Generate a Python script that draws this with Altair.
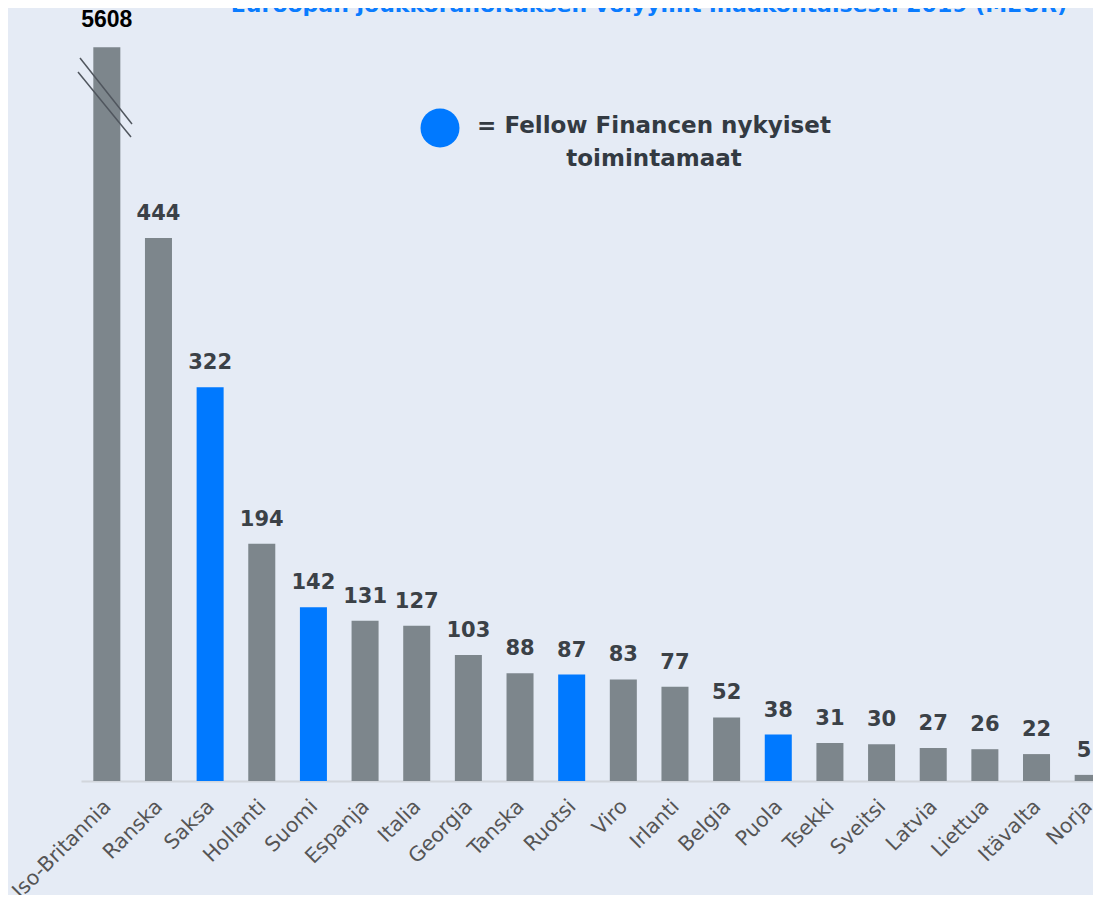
import altair as alt
import pandas as pd

# ---- data ----
countries = ["Iso-Britannia", "Ranska", "Saksa", "Hollanti", "Suomi", "Espanja",
             "Italia", "Georgia", "Tanska", "Ruotsi", "Viro", "Irlanti", "Belgia",
             "Puola", "Tsekki", "Sveitsi", "Latvia", "Liettua", "Itävalta", "Norja"]
values = [5608, 444, 322, 194, 142, 131, 127, 103, 88, 87, 83, 77, 52, 38,
          31, 30, 27, 26, 22, 5]
operating = ["Saksa", "Suomi", "Ruotsi", "Puola"]
axis_cap = 600  # out-of-scale bar is drawn broken at this height
title_text = "Euroopan joukkorahoituksen volyymit maakohtaisesti 2019 (MEUR)"
legend_lines = ["= Fellow Financen nykyiset", "toimintamaat"]

BG = "#E5EBF5"
GRAY = "#7D868C"
BLUE = "#0079FF"
LABEL = "#3B4147"

df = pd.DataFrame({"maa": countries, "arvo": values})
df["fellow"] = df["maa"].isin(operating)
df["nayta"] = df["arvo"].clip(upper=axis_cap)
df["broken"] = df["arvo"] > axis_cap
df["last"] = df["maa"] == countries[-1]

x_enc = alt.X(
    "maa:N", sort=countries,
    scale=alt.Scale(range=[0, 1033], paddingInner=0.477, paddingOuter=0.2385),
    axis=alt.Axis(title=None, labelAngle=-45, labelAlign="right",
                  labelBaseline="middle", labelFont="DejaVu Sans",
                  labelFontSize=20.5, labelColor="#555555", labelPadding=22,
                  labelOffset=1, ticks=False, domainColor="#D2D6DC",
                  domainWidth=2, grid=False, labelOverlap=False),
)
y_enc = alt.Y("nayta:Q", scale=alt.Scale(domain=[0, 632], nice=False),
              axis=None)

base = alt.Chart(df)

bars = base.mark_bar().encode(
    x=x_enc, y=y_enc,
    color=alt.condition("datum.fellow", alt.value(BLUE), alt.value(GRAY)),
)

label_style = dict(baseline="alphabetic", dy=-18, font="DejaVu Sans",
                   fontWeight="bold", fontSize=21, color=LABEL)

labels = base.transform_filter("!datum.broken && !datum.last").mark_text(
    **label_style
).encode(x=alt.X("maa:N", sort=countries), y="nayta:Q", text="arvo:Q")

last_label = base.transform_filter("datum.last").mark_text(
    dx=-4, **label_style
).encode(x=alt.X("maa:N", sort=countries), y="nayta:Q", text="arvo:Q")

big_label = base.transform_filter("datum.broken").mark_text(
    baseline="alphabetic", dy=-20, font="Liberation Sans", fontWeight="bold",
    fontSize=23, color="#000000",
).encode(x=alt.X("maa:N", sort=countries), y="nayta:Q", text="arvo:Q")

one = pd.DataFrame({"k": [0]})

brk1 = alt.Chart(one).mark_rule(color="#50565E", strokeWidth=1.5).encode(
    x=alt.value(-1), x2=alt.value(51), y=alt.value(50), y2=alt.value(116))
brk2 = alt.Chart(one).mark_rule(color="#50565E", strokeWidth=1.5).encode(
    x=alt.value(-3), x2=alt.value(50), y=alt.value(64), y2=alt.value(129))

dot = alt.Chart(one).mark_circle(color=BLUE, opacity=1, size=1520).encode(
    x=alt.value(359), y=alt.value(120))

legend_text = alt.Chart(one).mark_text(
    text=legend_lines, align="center", baseline="alphabetic", lineHeight=33,
    font="DejaVu Sans", fontWeight="bold", fontSize=23, color="#333A42",
).encode(x=alt.value(573), y=alt.value(125))

title = alt.Chart(one).mark_text(
    text=title_text, align="right", baseline="alphabetic",
    font="DejaVu Sans", fontWeight="bold", fontSize=22, color="#0A7CFF",
).encode(x=alt.value(986), y=alt.value(4))

chart = alt.layer(bars, labels, last_label, big_label, brk1, brk2, dot,
                  legend_text, title).properties(
    width=1012, height=773,
    autosize=alt.AutoSizeParams(type="none"),
    padding={"left": 73, "top": 0, "right": 0, "bottom": 114},
    background=BG,
).configure_view(stroke=None)

chart.save("out.html", embed_options={"renderer": "svg", "actions": False})
